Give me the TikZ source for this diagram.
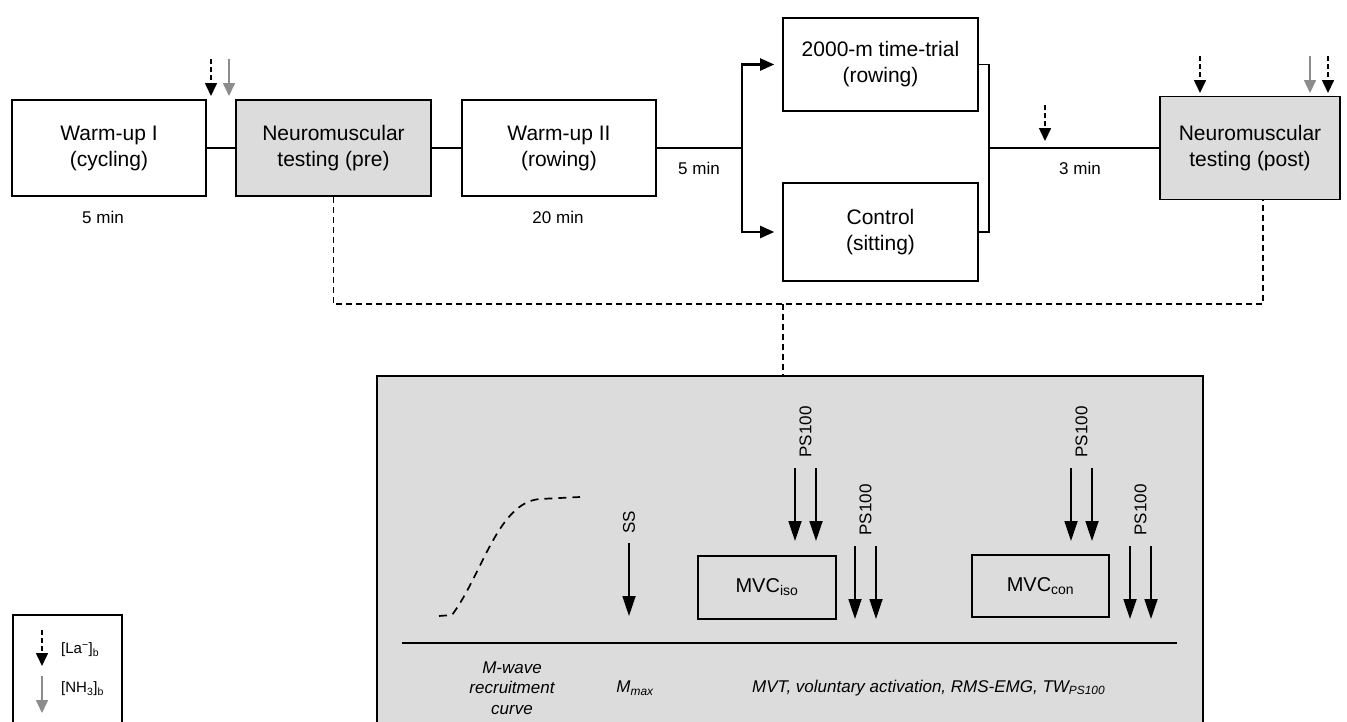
\documentclass[tikz,border=0pt]{standalone}
\usepackage{fontspec}
\setmainfont{Liberation Sans}
\usetikzlibrary{arrows.meta}
\definecolor{boxgray}{HTML}{DCDCDC}
\definecolor{arrgray}{HTML}{8C8C8C}
\begin{document}
\begin{tikzpicture}[x=1pt,y=-1pt,
 box/.style={draw=black, line width=1.6pt, align=center, font=\fontsize{21}{26}\selectfont, inner sep=0pt},
 conn/.style={line width=1.6pt},
 lbl/.style={font=\fontsize{17}{20}\selectfont, inner sep=0pt},
 ital/.style={font=\fontsize{17}{20.5}\selectfont\itshape, inner sep=0pt, align=center},
 tip/.style={-{Triangle[length=13pt,width=12pt]}, line width=1.6pt},
 bigtip/.style={-{Triangle[length=20pt,width=13pt]}, line width=1.8pt},
 smalldash/.style={dash pattern=on 5pt off 3pt},
 dsh/.style={dash pattern=on 6pt off 4pt, line width=1.6pt}
]
\useasboundingbox (0,0) rectangle (1347,721);
% top row boxes
\node[box, minimum width=194pt, minimum height=96pt] (w1) at (109,148) {Warm-up I\\(cycling)};
\node[box, fill=boxgray, minimum width=195pt, minimum height=96pt] (pre) at (333.5,148) {Neuromuscular\\testing (pre)};
\node[box, minimum width=194pt, minimum height=96pt] (w2) at (559,148) {Warm-up II\\(rowing)};
\node[box, minimum width=195pt, minimum height=93pt] (tt) at (880.5,64.5) {2000-m time-trial\\(rowing)};
\node[box, minimum width=195pt, minimum height=98pt] (ct) at (880.5,232) {Control\\(sitting)};
\node[box, fill=boxgray, minimum width=180pt, minimum height=103pt] (post) at (1250,148) {Neuromuscular\\testing (post)};
% connectors
\draw[conn] (w1.east) -- (pre.west);
\draw[conn] (pre.east) -- (w2.west);
\coordinate (br) at (742,148);
\draw[line width=2.2pt] (w2.east) -- (br);
\draw[line width=2.2pt, -{Triangle[length=14pt,width=12pt]}, shorten >=8pt] (br) |- (tt.west);
\draw[line width=2.2pt, -{Triangle[length=14pt,width=12pt]}, shorten >=8pt] (br) |- (ct.west);
\coordinate (jr) at (989,148);
\draw[conn] (tt.east) -- (jr |- tt.east) -- (jr |- ct.east) -- (ct.east);
\draw[conn] (jr) -- (post.west);
% time labels
\node[lbl] (l1) at (103,217) {5 min};
\node[lbl] (l2) at (558,217) {20 min};
\node[lbl] (l3) at (699,168) {5 min};
\node[lbl] (l4) at (1080,168) {3 min};
% blood sample arrows
\coordinate (a1s) at (211,59); \coordinate (a1e) at (211,96);
\coordinate (a2s) at (229,59); \coordinate (a2e) at (229,96);
\coordinate (a3s) at (1045,105); \coordinate (a3e) at (1045,141);
\coordinate (a4s) at (1200,56); \coordinate (a4e) at (1200,93);
\coordinate (a5s) at (1310,56); \coordinate (a5e) at (1310,93);
\coordinate (a6s) at (1328,56); \coordinate (a6e) at (1328,93);
\draw[tip, smalldash] (a1s) -- (a1e);
\draw[tip, arrgray] (a2s) -- (a2e);
\draw[tip, smalldash] (a3s) -- (a3e);
\draw[tip, smalldash] (a4s) -- (a4e);
\draw[tip, arrgray] (a5s) -- (a5e);
\draw[tip, smalldash] (a6s) -- (a6e);
% big gray box
\node[draw, line width=1.6pt, fill=boxgray, minimum width=826pt, minimum height=360pt, inner sep=0pt] (big) at (790,556) {};
% dashed links
\coordinate (mid) at (783,304);
\coordinate (pd) at (1263,304);
\draw[dsh] (pre.south) |- (mid) -- (pd) -- (pd |- post.south);
\draw[dsh] (mid) -- (mid |- big.north);
% recruitment curve
\coordinate (c0) at (439,616);
\coordinate (c1) at (452,615);
\coordinate (c2) at (540,499);
\coordinate (c3) at (580,497);
\draw[dash pattern=on 8pt off 6pt, line width=1.7pt] (c0) -- (c1) .. controls (482,575) and (498,502) .. (c2) -- (c3);
% SS
\coordinate (ss1) at (629,543); \coordinate (ss2) at (629,616);
\draw[bigtip] (ss1) -- (ss2);
\node[lbl, rotate=90] (sslbl) at (629,522) {SS};
% MVC boxes
\node[draw, line width=1.6pt, minimum width=138pt, minimum height=63pt, inner sep=0pt, font=\fontsize{20}{24}\selectfont] (iso) at (767,587.5) {MVC\textsubscript{iso}};
\node[draw, line width=1.6pt, minimum width=137pt, minimum height=62pt, inner sep=0pt, font=\fontsize{20}{24}\selectfont] (con) at (1040.5,586) {MVC\textsubscript{con}};
% PS100 arrows
\foreach \x/\n in {795/p1,816/p2,1071/p3,1092/p4}{
  \coordinate (\n s) at (\x,468); \coordinate (\n e) at (\x,541);
  \draw[bigtip] (\n s) -- (\n e);
}
\foreach \x/\n in {855/q1,876/q2,1130/q3,1151/q4}{
  \coordinate (\n s) at (\x,546); \coordinate (\n e) at (\x,619);
  \draw[bigtip] (\n s) -- (\n e);
}
\node[lbl, rotate=90] (ps1) at (805.5,432) {PS100};
\node[lbl, rotate=90] (ps2) at (865.5,510) {PS100};
\node[lbl, rotate=90] (ps3) at (1081.5,432) {PS100};
\node[lbl, rotate=90] (ps4) at (1140.5,510) {PS100};
% separator
\coordinate (hl1) at (402,643); \coordinate (hl2) at (1177,643);
\draw[line width=1.6pt] (hl1) -- (hl2);
% bottom labels
\node[ital] (mw) at (512,688) {M-wave\\recruitment\\curve};
\node[ital] (mm) at (635,688) {M\textsubscript{max}};
\node[ital, anchor=west] (mvt) at (752,688) {MVT, voluntary activation, RMS-EMG, TW\textsubscript{PS100}};
% legend
\node[draw, line width=1.6pt, fill=white, minimum width=109pt, minimum height=130pt, inner sep=0pt] (leg) at (67.5,680) {};
\coordinate (g1s) at (42,630); \coordinate (g1e) at (42,666);
\coordinate (g2s) at (42,676); \coordinate (g2e) at (42,713);
\draw[tip, smalldash] (g1s) -- (g1e);
\draw[tip, arrgray] (g2s) -- (g2e);
\node[font=\fontsize{15}{18}\selectfont, inner sep=0pt, anchor=west] (lg1) at (61,650) {[La\textsuperscript{−}]\textsubscript{b}};
\node[font=\fontsize{15}{18}\selectfont, inner sep=0pt, anchor=west] (lg2) at (61,689) {[NH\textsubscript{3}]\textsubscript{b}};
\end{tikzpicture}
\end{document}
